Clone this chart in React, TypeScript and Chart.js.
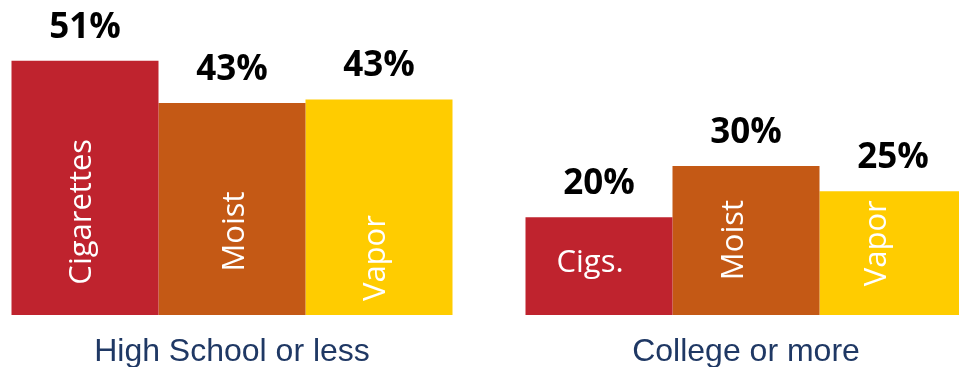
import React, { useEffect, useRef } from "react";
import { Chart, registerables } from "chart.js";

Chart.register(...registerables);

// ---- data ----
const categories = ["High School or less", "College or more"];
const seriesNames = ["Cigarettes", "Moist", "Vapor"];
const cigarettes = [51.2, 19.7];
const moist = [42.7, 30.0];
const vapor = [43.4, 24.9];
const cigaretteBarLabels = ["Cigarettes", "Cigs."];
const moistBarLabels = ["Moist", "Moist"];
const vaporBarLabels = ["Vapor", "Vapor"];

// ---- styles ----
const colors = ["#BF232E", "#C45915", "#FFCC00"];
// per dataset, per category: [dx, fraction of bar height from top, rotated]
const insideLabelStyle: [number, number, boolean][][] = [
  [[-3, 0.594, true], [-9, 0.47, false]],
  [[3, 0.606, true], [-12, 0.497, true]],
  [[-3, 0.736, true], [-16, 0.42, true]],
];

const barLabelPlugin = {
  id: "barLabels",
  afterDatasetsDraw(chart: any) {
    const ctx = chart.ctx;
    const inside = [cigaretteBarLabels, moistBarLabels, vaporBarLabels];
    chart.data.datasets.forEach((ds: any, i: number) => {
      const meta = chart.getDatasetMeta(i);
      meta.data.forEach((bar: any, j: number) => {
        const v = ds.data[j] as number;
        ctx.save();
        ctx.fillStyle = "#000000";
        ctx.font = "bold 35px 'Open Sans'";
        ctx.textAlign = "center";
        ctx.textBaseline = "alphabetic";
        ctx.fillText(`${Math.round(v)}%`, bar.x, bar.y - 23);
        ctx.restore();

        const [dx, frac, rot] = insideLabelStyle[i][j];
        const cy = bar.y + frac * (bar.base - bar.y);
        ctx.save();
        ctx.fillStyle = "#FFFFFF";
        ctx.font = "31px 'Open Sans'";
        ctx.textAlign = "center";
        ctx.textBaseline = "middle";
        ctx.translate(bar.x + dx, cy);
        if (rot) ctx.rotate(-Math.PI / 2);
        ctx.fillText(inside[i][j], 0, 0);
        ctx.restore();
      });
    });
  },
};

export default function App() {
  const ref = useRef<HTMLCanvasElement | null>(null);
  useEffect(() => {
    if (!ref.current) return;
    const chart = new Chart(ref.current, {
      type: "bar",
      data: {
        labels: categories,
        datasets: [cigarettes, moist, vapor].map((d, i) => ({
          label: seriesNames[i],
          data: d,
          backgroundColor: colors[i],
          borderWidth: 0,
          categoryPercentage: 441 / 514,
          barPercentage: 1,
        })),
      },
      options: {
        responsive: false,
        animation: false,
        events: [],
        layout: { padding: { top: 17, left: 0, right: 0, bottom: 0 } },
        plugins: {
          legend: { display: false },
          tooltip: { enabled: false },
          title: { display: false },
        },
        scales: {
          x: {
            grid: { display: false },
            border: { display: false },
            ticks: {
              color: "#1F3864",
              font: { family: "'Liberation Sans', Arial, sans-serif", size: 32 },
              padding: 10,
              maxRotation: 0,
            },
            afterFit: (s: any) => {
              s.height = 52;
            },
          },
          y: {
            display: false,
            min: 0,
            max: 60,
          },
        },
      },
      plugins: [barLabelPlugin],
    });
    return () => chart.destroy();
  }, []);

  return (
    <div
      style={{
        position: "fixed",
        left: 0,
        top: 0,
        width: 959,
        height: 367,
        overflow: "hidden",
        background: "#FFFFFF",
      }}
    >
      <canvas
        ref={ref}
        width={1028}
        height={367}
        style={{ position: "absolute", left: -25, top: 0, width: 1028, height: 367 }}
      />
    </div>
  );
}
